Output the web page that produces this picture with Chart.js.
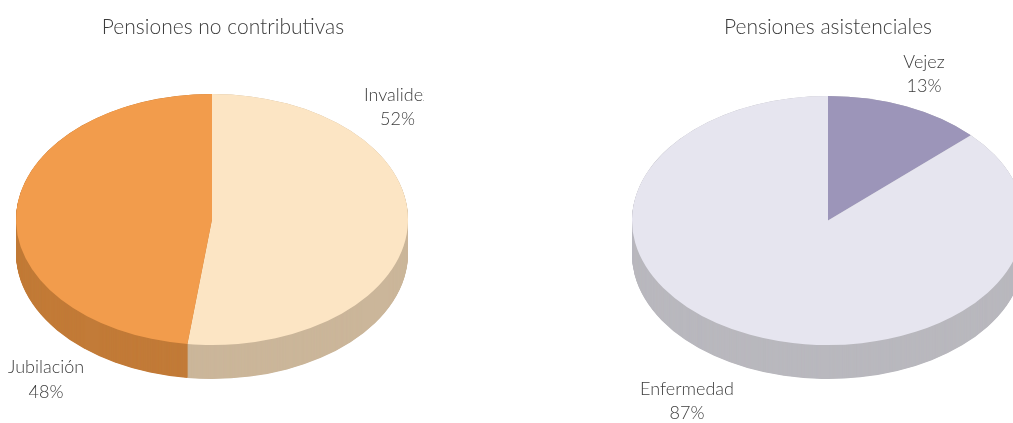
<!DOCTYPE html>
<html><head><meta charset="utf-8">
<style>
html,body{margin:0;padding:0;background:#fff;width:1013px;height:423px;overflow:hidden}
#wrap{position:relative;width:1013px;height:423px;overflow:hidden}
.box{position:absolute;top:0;height:423px}
</style>
<script src="https://cdn.jsdelivr.net/npm/chart.js@4"></script>
</head><body>
<div id="wrap">
<div class="box" style="left:0;width:424px"><canvas id="a"></canvas></div>
<div class="box" style="left:472px;width:560px"><canvas id="b"></canvas></div>
</div>
<script>
const titleLeft = "Pensiones no contributivas";
const titleRight = "Pensiones asistenciales";
const categoriesLeft = ["Invalidez", "Jubilación"];
const valuesLeft = [52, 48];
const categoriesRight = ["Vejez", "Enfermedad"];
const valuesRight = [13, 87];

const topLeft = ["#FCE5C4", "#F29C4C"];
const sideLeft = ["#CBB69A", "#C27B38"];
const topRight = ["#9C95B9", "#E6E5EF"];
const sideRight = ["#B9B8BE", "#B9B8BE"];

const FONT = '"Lato"';
const TEXT = "#3c3c3c";

function squashPlugin(cfg){
  return {
    id: "squash",
    beforeDatasetsDraw(chart){
      const ctx = chart.ctx, arcs = chart.getDatasetMeta(0).data;
      const a0 = arcs[0], k = cfg.ry / a0.outerRadius;
      const place = () => {
        ctx.translate(0, cfg.cy);
        ctx.scale(1, k);
        ctx.translate(0, -a0.y);
      };
      // extruded side, drawn from the arcs the library laid out
      for (let dy = cfg.depth; dy >= 0; dy -= 0.5) {
        arcs.forEach((arc, i) => {
          ctx.save();
          ctx.translate(0, dy);
          place();
          ctx.beginPath();
          ctx.moveTo(arc.x, arc.y);
          ctx.arc(arc.x, arc.y, arc.outerRadius, arc.startAngle, arc.endAngle);
          ctx.closePath();
          ctx.fillStyle = cfg.side[i];
          ctx.fill();
          ctx.restore();
        });
      }
      ctx.save();
      place();
    },
    afterDatasetsDraw(chart){
      const ctx = chart.ctx;
      ctx.restore();
      ctx.save();
      ctx.fillStyle = TEXT;
      ctx.textAlign = "center";
      ctx.textBaseline = "middle";
      ctx.font = `300 ${cfg.titleSize}px ${FONT}`;
      ctx.fillText(cfg.title, cfg.titleAt[0], cfg.titleAt[1]);
      ctx.font = `300 ${cfg.labelSize}px ${FONT}`;
      cfg.labels.forEach((l, i) => {
        ctx.fillText(l, cfg.labelAt[i][0], cfg.labelAt[i][1]);
        ctx.fillText(cfg.values[i] + "%", cfg.labelAt[i][0], cfg.labelAt[i][1] + 24.5);
      });
      ctx.restore();
    }
  };
}

function makePie(id, labels, values, colors, padding, cfg){
  new Chart(document.getElementById(id), {
    type: "pie",
    data: { labels, datasets: [{ data: values, backgroundColor: colors, borderWidth: 0 }] },
    options: {
      responsive: true, maintainAspectRatio: false, animation: false,
      layout: { padding },
      plugins: { legend: { display: false }, tooltip: { enabled: false }, title: { display: false } }
    },
    plugins: [squashPlugin(cfg)]
  });
}

makePie("a", categoriesLeft, valuesLeft, topLeft,
  { left: 16, right: 16, top: 15, bottom: 16 },
  { ry: 125.5, cy: 219.5, depth: 34, side: sideLeft, title: titleLeft, titleAt: [223, 27],
    titleSize: 21, labelSize: 18, labels: categoriesLeft, values: valuesLeft,
    labelAt: [[397.5, 95], [46, 367.5]] });

makePie("b", categoriesRight, valuesRight, topRight,
  { left: 160, right: 8, top: 15, bottom: 16 },
  { ry: 124.5, cy: 220.5, depth: 34, side: sideRight, title: titleRight, titleAt: [356, 27],
    titleSize: 21, labelSize: 18, labels: categoriesRight, values: valuesRight,
    labelAt: [[452, 62], [215, 389]] });
</script>
</body></html>
